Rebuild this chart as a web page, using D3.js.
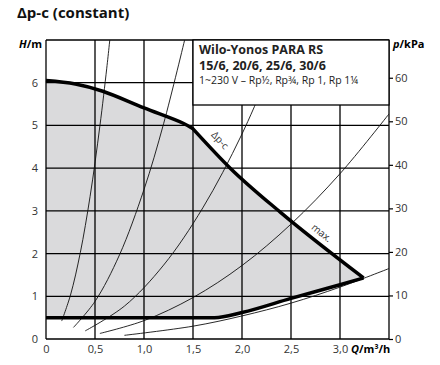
<!DOCTYPE html>
<html>
<head>
<meta charset="utf-8">
<script src="https://cdn.jsdelivr.net/npm/d3@7"></script>
<style>
body { margin: 0; background: #fff; }
text { font-family: "Open Sans", "Noto Sans", sans-serif; }
</style>
</head>
<body>
<script>
// axis ticks
var flowTicks = [0, 0.5, 1.0, 1.5, 2.0, 2.5, 3.0];
var flowLabels = ["0", "0,5", "1,0", "1,5", "2,0", "2,5", "3,0"];
var headTicks = [0, 1, 2, 3, 4, 5, 6];
var kpaTicks = [0, 10, 20, 30, 40, 50, 60];

// delta p-c part of the upper curve (Q m3/h, H m)
var dpcQ = [0, 0.3, 0.58, 1.0, 1.4, 1.5];
var dpcH = [6.05, 5.97, 5.8, 5.41, 5.05, 4.92];
// max part of the upper curve
var maxQ = [1.5, 1.88, 2.39, 3.24];
var maxH = [4.92, 4.0, 2.97, 1.43];
// lower limit
var minQ = [0, 1.72, 2.0, 2.5, 3.0, 3.24];
var minH = [0.5, 0.5, 0.62, 0.95, 1.27, 1.43];

// system curves
var sys1Q = [0.16, 0.25, 0.35, 0.45, 0.55, 0.62, 0.66];
var sys1H = [0.42, 1.03, 2.02, 3.34, 4.99, 6.34, 7.2];
var sys2Q = [0.28, 0.5, 0.75, 1.0, 1.2, 1.42];
var sys2H = [0.27, 0.88, 1.97, 3.5, 5.04, 7.05];
var sys3Q = [0.4, 0.8, 1.2, 1.6, 2.0, 2.42];
var sys3H = [0.19, 0.77, 1.73, 3.07, 4.8, 7.03];
var sys4Q = [0.55, 1.0, 1.5, 2.0, 2.5, 3.0, 3.5];
var sys4H = [0.13, 0.43, 0.97, 1.72, 2.69, 3.87, 5.27];
var sys5Q = [0.8, 1.5, 2.0, 2.5, 3.0, 3.5];
var sys5H = [0.086, 0.3, 0.54, 0.84, 1.215, 1.65];

var w = 440, h = 365;
var plotL = 46, plotR = 389, plotT = 40, plotB = 339;

var svg = d3.select("body").append("svg")
    .attr("width", w)
    .attr("height", h);

var x = d3.scaleLinear().domain([0, 3.5]).range([plotL, plotR]);
var y = d3.scaleLinear().domain([0, 7]).range([plotB, plotT]);
var p = d3.scaleLinear().domain([0, 7 * 9.81]).range([plotB, plotT]);

function pts(qs, hs) {
    return qs.map((q, i) => [q, hs[i]]);
}

var smooth = d3.line().x(d => x(d[0])).y(d => y(d[1])).curve(d3.curveMonotoneX);
var curvy = d3.line().x(d => x(d[0])).y(d => y(d[1])).curve(d3.curveCatmullRom);

// gray working area
var lower = pts(minQ, minH);
var upperPath = curvy(pts(dpcQ, dpcH)) + smooth(pts(maxQ, maxH)).replace("M", "L");
var lowerRev = lower.slice().reverse().map(d => [-d[0], d[1]]);
var lowerPath = d3.line().x(d => x(-d[0])).y(d => y(d[1])).curve(d3.curveMonotoneX)(lowerRev).replace("M", "L");

svg.append("path")
    .attr("d", upperPath + lowerPath + "Z")
    .attr("fill", "#dadadc");

svg.append("clipPath").attr("id", "plot")
    .append("rect")
    .attr("x", plotL).attr("y", plotT)
    .attr("width", plotR - plotL).attr("height", plotB - plotT);

// grid
var grid = svg.append("g").attr("stroke", "#000").attr("stroke-width", 1.3);
grid.selectAll("line.v")
    .data(flowTicks.concat([3.5]))
    .enter()
    .append("line")
    .attr("class", "v")
    .attr("x1", d => x(d)).attr("x2", d => x(d))
    .attr("y1", plotT).attr("y2", plotB);
grid.selectAll("line.h")
    .data(headTicks.concat([7]))
    .enter()
    .append("line")
    .attr("class", "h")
    .attr("x1", plotL).attr("x2", plotR)
    .attr("y1", d => y(d)).attr("y2", d => y(d));

// system curves
var sysCurves = [pts(sys1Q, sys1H), pts(sys2Q, sys2H), pts(sys3Q, sys3H), pts(sys4Q, sys4H), pts(sys5Q, sys5H)];
svg.append("g")
    .attr("clip-path", "url(#plot)")
    .selectAll("path")
    .data(sysCurves)
    .enter()
    .append("path")
    .attr("d", curvy)
    .attr("fill", "none")
    .attr("stroke", "#111")
    .attr("stroke-width", 0.9);

// thick limit curves
svg.append("path")
    .attr("d", upperPath)
    .attr("fill", "none")
    .attr("stroke", "#000")
    .attr("stroke-width", 3.5)
    .attr("stroke-linejoin", "round");
svg.append("path")
    .attr("d", smooth(lower))
    .attr("fill", "none")
    .attr("stroke", "#000")
    .attr("stroke-width", 3.5)
    .attr("stroke-linejoin", "round");

// legend box
svg.append("rect")
    .attr("x", x(1.5)).attr("y", plotT)
    .attr("width", plotR - x(1.5)).attr("height", 65)
    .attr("fill", "#fff")
    .attr("stroke", "#000")
    .attr("stroke-width", 1.3);

var lg = svg.append("g").attr("fill", "#222");
lg.append("text").attr("x", x(1.5) + 6).attr("y", 54)
    .attr("font-size", 12.5).attr("font-weight", "bold")
    .text("Wilo-Yonos PARA RS");
lg.append("text").attr("x", x(1.5) + 6).attr("y", 70)
    .attr("font-size", 12.5).attr("font-weight", "bold")
    .text("15/6, 20/6, 25/6, 30/6");
lg.append("text").attr("x", x(1.5) + 6).attr("y", 84)
    .attr("font-size", 10.5)
    .text("1~230 V – Rp½, Rp¾, Rp 1, Rp 1¼");

// axes
var yAxis = svg.append("g")
    .attr("transform", "translate(" + plotL + ",0)")
    .call(d3.axisLeft(y).tickValues(headTicks).tickFormat(d3.format("d")).tickSize(0).tickPadding(8));
var xAxis = svg.append("g")
    .attr("transform", "translate(0," + plotB + ")")
    .call(d3.axisBottom(x).tickValues(flowTicks).tickFormat((d, i) => flowLabels[i]).tickSize(0).tickPadding(6));
var pAxis = svg.append("g")
    .attr("transform", "translate(" + plotR + ",0)")
    .call(d3.axisRight(p).tickValues(kpaTicks).tickFormat(d3.format("d")).tickSize(4).tickPadding(2));

[yAxis, xAxis, pAxis].forEach(a => {
    a.select(".domain").remove();
    a.selectAll("text")
        .attr("font-family", "'Open Sans', 'Noto Sans', sans-serif")
        .attr("font-size", 11)
        .attr("fill", "#333");
    a.selectAll("line").attr("stroke", "#000").attr("stroke-width", 1.2);
});

// curve labels
svg.append("text")
    .attr("transform", "translate(" + (x(1.72) + 3) + "," + (y(4.55) - 2) + ") rotate(47)")
    .attr("text-anchor", "middle")
    .attr("font-size", 10)
    .attr("fill", "#333")
    .text("Δp-c");
svg.append("text")
    .attr("transform", "translate(" + (x(2.76) + 3) + "," + (y(2.35) - 3) + ") rotate(39)")
    .attr("text-anchor", "middle")
    .attr("font-size", 10)
    .attr("fill", "#333")
    .text("max.");

// titles
svg.append("text")
    .attr("x", 17).attr("y", 18)
    .attr("font-size", 15).attr("font-weight", "bold")
    .attr("fill", "#111")
    .text("Δp-c (constant)");

var ht = svg.append("text").attr("x", 42).attr("y", 48)
    .attr("text-anchor", "end").attr("font-size", 11).attr("font-weight", "bold");
ht.append("tspan").attr("font-style", "italic").text("H");
ht.append("tspan").text("/m");

var pt = svg.append("text").attr("x", 393).attr("y", 48)
    .attr("font-size", 11).attr("font-weight", "bold");
pt.append("tspan").attr("font-style", "italic").text("p");
pt.append("tspan").text("/kPa");

var qt = svg.append("text").attr("x", 351).attr("y", 353)
    .attr("font-size", 11).attr("font-weight", "bold");
qt.append("tspan").attr("font-style", "italic").text("Q");
qt.append("tspan").text("/m³/h");
</script>
</body>
</html>
